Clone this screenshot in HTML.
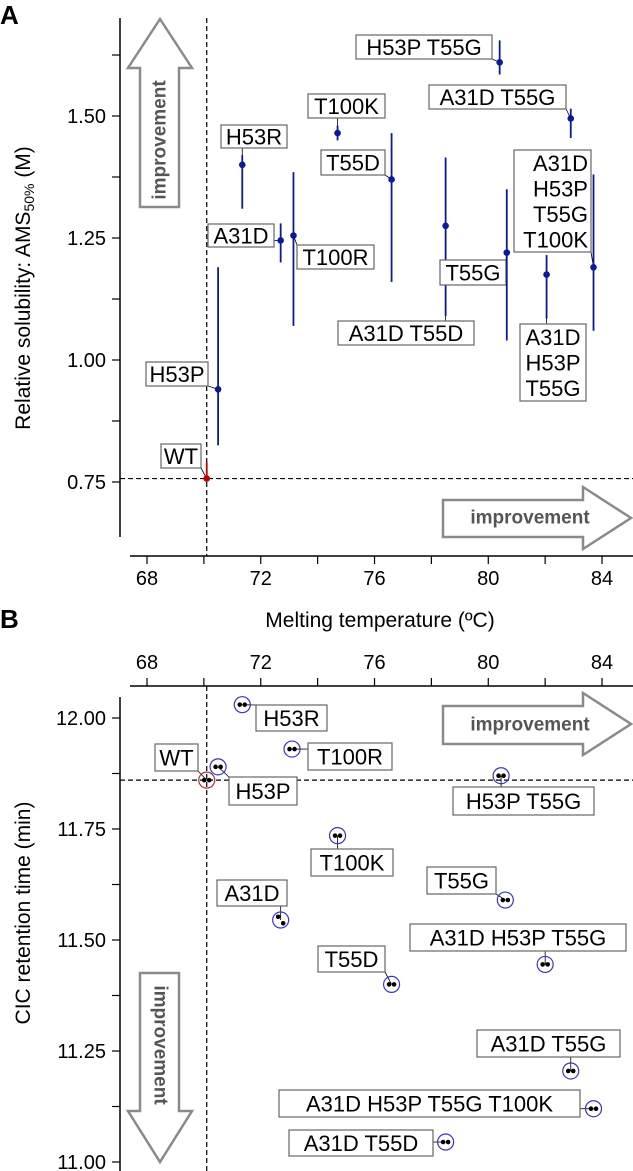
<!DOCTYPE html>
<html><head><meta charset="utf-8"><style>
body{margin:0;background:#fff;}
svg{display:block;font-family:"Liberation Sans",Arial,sans-serif;}
</style></head><body>
<svg id="c" width="633" height="1171" viewBox="0 0 633 1171"></svg>
<script>
const variants=["WT","H53P","H53R","A31D","T100R","T100K","T55D","A31D T55D","T55G","H53P T55G","A31D H53P T55G","A31D T55G","A31D H53P T55G T100K"];
const tm=[70.1,70.5,71.35,72.7,73.15,74.7,76.6,78.5,80.65,80.4,82.05,82.9,83.7];
const sol=[0.757,0.94,1.40,1.245,1.255,1.465,1.37,1.275,1.22,1.61,1.175,1.495,1.19];
const solLo=[0.757,0.825,1.31,1.20,1.07,1.45,1.16,1.09,1.04,1.585,1.085,1.455,1.06];
const solHi=[0.79,1.19,1.42,1.28,1.385,1.48,1.465,1.415,1.35,1.655,1.215,1.515,1.38];
const tmB=[70.1,70.5,71.35,72.7,73.1,74.7,76.6,78.5,80.6,80.45,82.0,82.9,83.7];
const cic=[11.86,11.89,12.03,11.545,11.93,11.735,11.40,11.045,11.59,11.87,11.445,11.205,11.12];
const xTicks=[68,72,76,80,84];
const yTicksA=[0.75,1.00,1.25,1.50];
const yTicksB=[11.00,11.25,11.50,11.75,12.00];

const NS="http://www.w3.org/2000/svg";
const svg=document.getElementById('c');
function el(t,a,p){const e=document.createElementNS(NS,t);for(const k in a)e.setAttribute(k,a[k]);(p||svg).appendChild(e);return e;}
const xA=t=>147+(t-68)*28.44;
const yA=v=>482-(v-0.75)*488;
const yB=v=>718+(12-v)*444;

let t=el('text',{x:0,y:24,'font-size':26,'font-weight':'bold'});t.textContent='A';

t=el('text',{x:0,y:628,'font-size':26,'font-weight':'bold'});t.textContent='B';


function arrowUp(x0,x1,s0,s1,yTop,yHead,yBot,name,down){
  let d;
  const mid=(x0+x1)/2;
  if(!down) d=`M${mid},${yTop} L${x1},${yHead} L${s1},${yHead} L${s1},${yBot} L${s0},${yBot} L${s0},${yHead} L${x0},${yHead} Z`;
  else d=`M${mid},${yBot} L${x1},${yHead} L${s1},${yHead} L${s1},${yTop} L${s0},${yTop} L${s0},${yHead} L${x0},${yHead} Z`;
  const p=el('path',{d:d,fill:'#fff',stroke:'#8a8a8a','stroke-width':2.5});
  
}
function arrowRight(x0,xHead,xTip,y0,y1,s0,s1,name){
  const mid=(y0+y1)/2;
  const p=el('path',{d:`M${x0},${s0} L${xHead},${s0} L${xHead},${y0} L${xTip},${mid} L${xHead},${y1} L${xHead},${s1} L${x0},${s1} Z`,fill:'#fff',stroke:'#8a8a8a','stroke-width':2.5});
  
}
function arrowText(x,y,rot,name){
  const t=el('text',{x:x,y:y,'font-size':19,'font-weight':'bold',fill:'#555','text-anchor':'middle','dominant-baseline':'central',transform:`rotate(${rot} ${x} ${y})`});
  t.textContent='improvement';
}
arrowUp(128,192,140,179,19,68,207,'arrow-up-a',false);
arrowText(160,140,-90,'improvement-label-y-a');
arrowRight(443,583,631,487,549,500,537,'arrow-right-a');
arrowText(530,518,0,'improvement-label-x-a');
arrowRight(443,583,631,693,755,706,744,'arrow-right-b');
arrowText(530,725,0,'improvement-label-x-b');
arrowUp(128,192,140,179,973,1111,1162,'arrow-down-b',true);
arrowText(160,1045,90,'improvement-label-y-b');

let a=el('line',{x1:120,y1:18,x2:120,y2:537,stroke:'#000','stroke-width':1.5});
a=el('line',{x1:130,y1:556,x2:633,y2:556,stroke:'#000','stroke-width':1.5});
a=el('line',{x1:130,y1:686,x2:633,y2:686,stroke:'#000','stroke-width':1.5});
a=el('line',{x1:120,y1:697,x2:120,y2:1171,stroke:'#000','stroke-width':1.5});

for(let v=68;v<=84;v+=2){
  const x=xA(v);
  el('line',{x1:x,y1:556,x2:x,y2:564,stroke:'#000','stroke-width':1.2});
  el('line',{x1:x,y1:686,x2:x,y2:678,stroke:'#000','stroke-width':1.2});
}
xTicks.forEach(v=>{
  let t=el('text',{x:xA(v),y:585,'font-size':20,'text-anchor':'middle'});t.textContent=v;
  
  t=el('text',{x:xA(v),y:669,'font-size':20,'text-anchor':'middle'});t.textContent=v;
  
});
for(let v=0.75;v<=1.626;v+=0.125){el('line',{x1:112,y1:yA(v),x2:120,y2:yA(v),stroke:'#000','stroke-width':1.2});}
yTicksA.forEach(v=>{const t=el('text',{x:106,y:yA(v)+7,'font-size':20,'text-anchor':'end'});t.textContent=v.toFixed(2);
  });
for(let v=11;v<=12.01;v+=0.125){el('line',{x1:112,y1:yB(v),x2:120,y2:yB(v),stroke:'#000','stroke-width':1.2});}
yTicksB.forEach(v=>{const t=el('text',{x:106,y:yB(v)+7,'font-size':20,'text-anchor':'end'});t.textContent=v.toFixed(2);
  });

t=el('text',{x:380,y:627,'font-size':21,'text-anchor':'middle'});t.textContent='Melting temperature (ºC)';

t=el('text',{x:30,y:288,'font-size':21,'text-anchor':'middle',transform:'rotate(-90 30 288)'});
t.innerHTML='Relative solubility: AMS<tspan font-size="14" dy="4">50%</tspan><tspan dy="-4"> (M)</tspan>';

t=el('text',{x:30,y:913,'font-size':21,'text-anchor':'middle',transform:'rotate(-90 30 913)'});t.textContent='CIC retention time (min)';


el('line',{x1:xA(tm[0]),y1:18,x2:xA(tm[0]),y2:556,stroke:'#000','stroke-dasharray':'5,3','stroke-width':1.2});
el('line',{x1:120,y1:yA(sol[0]),x2:633,y2:yA(sol[0]),stroke:'#000','stroke-dasharray':'5,3','stroke-width':1.2});
el('line',{x1:xA(tmB[0]),y1:686,x2:xA(tmB[0]),y2:1171,stroke:'#000','stroke-dasharray':'5,3','stroke-width':1.2});
el('line',{x1:120,y1:yB(cic[0]),x2:633,y2:yB(cic[0]),stroke:'#000','stroke-dasharray':'5,3','stroke-width':1.2});

const boxA=[[161,444,40,24],[146,362,62,24],[221,125,66,23],[208,224,66,23],[297,245,77,24],[308,94,77,24],[321,150,64,25],[338,321,136,24],[440,260,66,25],[356,35,136,24],[520,324,66,77],[429,85,137,24],[514,150,77,102]];
const boxB=[[155,744,43,27],[229,777,68,28],[256,705,71,26],[217,880,70,26],[308,743,84,27],[311,849,82,27],[318,946,67,26],[289,1130,144,26],[427,867,69,27],[453,787,141,28],[410,924,216,27],[477,1030,143,27],[279,1090,301,27]];

function label(box,txt,px,py,name,multi,anchorEnd){
  const [x,y,w,h]=box;
  const cx=Math.max(x,Math.min(px,x+w)), cy=Math.max(y,Math.min(py,y+h));
  el('line',{x1:cx,y1:cy,x2:px,y2:py,stroke:'#000','stroke-width':0.8});
  const g=el('g',{});
  el('rect',{x:x,y:y,width:w,height:h,fill:'#fff',stroke:'#666','stroke-width':1.2},g);
  const lines=multi?txt.split(' '):[txt];
  const lh=h/lines.length;
  lines.forEach((s,i)=>{
    const tt=el('text',{x:anchorEnd?x+w-3:x+w/2,y:y+lh*i+lh/2+8,'font-size':22,'text-anchor':anchorEnd?'end':'middle'},g);
    tt.textContent=s;
  });
}

variants.forEach((v,i)=>{
  const x=xA(tm[i]),y=yA(sol[i]);
  const col=i===0?'#c00000':'#0a1a9a';
  const b=boxA[i];
  label(b,v,x,y,'label-a-'+v.toLowerCase().replace(/ /g,'-'),b[3]>40,i===12);
  const eb=el('line',{x1:x,y1:yA(solLo[i]),x2:x,y2:yA(solHi[i]),stroke:col,'stroke-width':1.8});
  
  const pt=el('circle',{cx:x,cy:y,r:3.3,fill:col});
  
});

variants.forEach((v,i)=>{
  const x=xA(tmB[i]),y=yB(cic[i]);
  label(boxB[i],v,x,y,'label-b-'+v.toLowerCase().replace(/ /g,'-'),false,false);
  const c=el('circle',{cx:x,cy:y,r:8,fill:'none',stroke:i===0?'#b03030':'#3535c8','stroke-width':1.2});
  
  [-2.5,2.5].forEach(o=>{
    const d=el('circle',{cx:x+o,cy:y+(i===3?o*1.3:0),r:2.3,fill:'#000'});
    
  });
});
</script>
</body></html>
